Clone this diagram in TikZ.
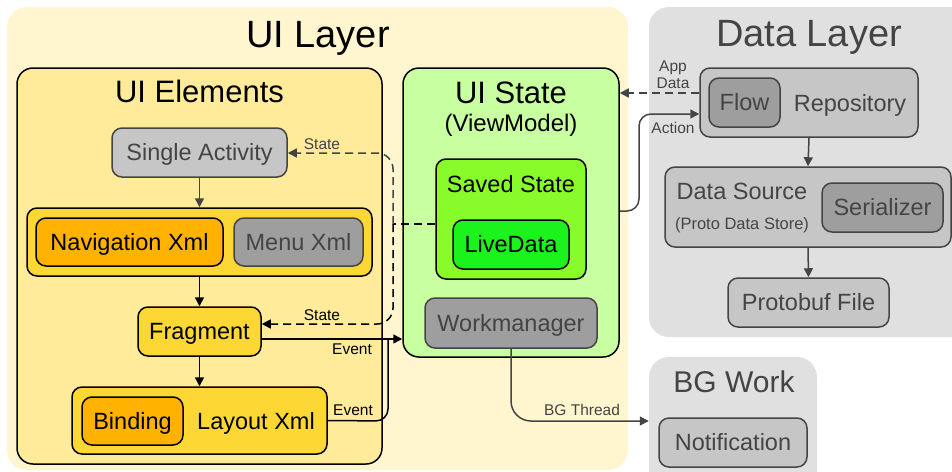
\documentclass[tikz,border=0pt]{standalone}
\usepackage{fontspec}
\setmainfont{Liberation Sans}
\usetikzlibrary{arrows.meta,calc}
\definecolor{uilayer}{HTML}{FFF6CF}
\definecolor{uielem}{HTML}{FFEB99}
\definecolor{gold}{HTML}{FDD835}
\definecolor{amber}{HTML}{FFB300}
\definecolor{lgray}{HTML}{C6C6C6}
\definecolor{mgray}{HTML}{9E9E9E}
\definecolor{bggray}{HTML}{E0E0E0}
\definecolor{dgray}{HTML}{444444}
\definecolor{lgreen}{HTML}{C8FFA0}
\definecolor{mgreen}{HTML}{88FC2A}
\definecolor{bgreen}{HTML}{1CF21C}
\begin{document}
\begin{tikzpicture}[x=1pt,y=-1pt,
  layerbg/.style={rounded corners=20pt, inner sep=0pt, fill=#1},
  box/.style={draw, rounded corners=10pt, line width=1.5pt, inner sep=0pt,
    text height=16.9pt, text depth=0pt, font=\fontsize{23.5}{28}\selectfont},
  graybox/.style={box, draw=dgray, text=dgray},
  ltitle/.style={anchor=base, font=\fontsize{38}{44}\selectfont},
  stitle/.style={anchor=base, font=\fontsize{31}{36}\selectfont},
  btext/.style={anchor=base, font=\fontsize{23.5}{28}\selectfont},
  small/.style={anchor=base, font=\fontsize{15.5}{18}\selectfont},
  arr/.style={-{Triangle[length=9pt,width=9pt]}, line width=1.5pt},
  dsh/.style={dash pattern=on 8pt off 5pt, line width=1.5pt},
]
\useasboundingbox (0,0) rectangle (952,471);
\clip (0,0) rectangle (952,471);

% layer backgrounds
\node[layerbg=uilayer, minimum width=621pt, minimum height=463pt] (uil) at (317.5,238.5) {};
\node[layerbg=bggray, minimum width=326pt, minimum height=330pt] (dl) at (812,172) {};
\node[layerbg=bggray, minimum width=168pt, minimum height=140pt] (bgw) at (733,427) {};
\node[ltitle] (uilt) at (318,47) {UI Layer};
\node[ltitle, text=dgray] (dlt) at (809,46) {Data Layer};
\node[anchor=base, font=\fontsize{30}{36}\selectfont, text=dgray] (bgwt) at (734,392) {BG Work};

% UI elements
\node[box, rounded corners=16pt, fill=uielem, minimum width=365pt, minimum height=396pt] (uie) at (199.5,266) {};
\node[stitle] (uiet) at (199.5,102) {UI Elements};
\node[graybox, fill=lgray, minimum width=175pt, minimum height=49pt] (sa) at (199.5,152.5) {Single Activity};
\node[box, fill=gold, minimum width=345pt, minimum height=68pt] (nav) at (199.5,242) {};
\node[box, fill=amber, minimum width=187pt, minimum height=48pt] (navx) at (129.5,242) {Navigation Xml};
\node[graybox, fill=mgray, minimum width=129pt, minimum height=48pt] (menu) at (298.5,242) {Menu Xml};
\node[box, fill=gold, minimum width=123pt, minimum height=49pt] (frag) at (199.5,331.5) {Fragment};
\node[box, fill=gold, minimum width=255pt, minimum height=67pt] (lay) at (199.5,420.5) {};
\node[box, fill=amber, minimum width=101pt, minimum height=48pt] (bind) at (132.5,421) {Binding};
\node[btext] (layt) at (256,429) {Layout Xml};

% UI state
\node[box, rounded corners=16pt, fill=lgreen, minimum width=216pt, minimum height=289pt] (uis) at (511,212.5) {};
\node[stitle] (uist) at (511,103) {UI State};
\node[anchor=base, font=\fontsize{24}{28}\selectfont] (vm) at (511,131) {(ViewModel)};
\node[box, fill=mgreen, minimum width=150pt, minimum height=120pt] (ss) at (511,219) {};
\node[btext] (sst) at (511,192) {Saved State};
\node[box, fill=bgreen, minimum width=116pt, minimum height=49pt] (ld) at (511,244.5) {LiveData};
\node[graybox, fill=mgray, minimum width=172pt, minimum height=50pt] (wm) at (511,323) {Workmanager};

% data layer
\node[graybox, fill=lgray, minimum width=218pt, minimum height=69pt] (repo) at (809,102.5) {};
\node[graybox, fill=mgray, minimum width=71pt, minimum height=49pt] (flow) at (744.5,102.5) {Flow};
\node[btext, text=dgray] (repot) at (850,111) {Repository};
\node[graybox, fill=lgray, minimum width=286pt, minimum height=80pt] (ds) at (808,207) {};
\node[btext, text=dgray] (dst) at (742,199) {Data Source};
\node[anchor=base, font=\fontsize{16.5}{20}\selectfont, text=dgray] (dss) at (742,229) {(Proto Data Store)};
\node[graybox, fill=mgray, minimum width=121pt, minimum height=49pt] (ser) at (882.5,207.5) {Serializer};
\node[graybox, fill=lgray, minimum width=161pt, minimum height=49pt] (pb) at (808.5,302.5) {Protobuf File};

% BG work
\node[graybox, fill=lgray, minimum width=148pt, minimum height=49pt] (notif) at (733,442.5) {Notification};

% vertical flow arrows
\draw[arr, dgray] (sa.south) -- (nav.north);
\draw[arr] (nav.south) -- (frag.north);
\draw[arr] (frag.south) -- (lay.north);
\draw[arr, dgray] (repo.south) -- (ds.north);
\draw[arr, dgray] (ds.south) -- (pb.north);

% state connectors
\coordinate (j) at (393,224);
\draw[dsh] (ss.west |- j) -- (j);
\draw[dsh, arr, dgray, rounded corners=16pt] (j) -- (393,153) -- (sa.east |- 0,153);
\draw[dsh, arr, rounded corners=16pt] (j) -- (393,324) -- (frag.east |- 0,324);
\node[small, text=dgray] (st1) at (322,149) {State};
\node[small] (st2) at (322,320) {State};

% event connectors
\draw[arr] (frag.east |- 0,339) -- (uis.west |- 0,339);
\draw[line width=1.5pt, rounded corners=12pt] (lay.east) -- (388,421) -- (388,339);
\node[small] (ev1) at (352,354) {Event};
\node[small] (ev2) at (353,415) {Event};

% data connectors
\draw[dsh, arr, dgray] (repo.west |- 0,93) -- (uis.east |- 0,93);
\draw[arr, dgray, rounded corners=12pt] (uis.east |- 0,211) -- (639,211) -- (639,114) -- (repo.west |- 0,114);
\node[small, text=dgray] (ad1) at (673,71) {App};
\node[small, text=dgray] (ad2) at (673,88) {Data};
\node[small, text=dgray] (act) at (673,133) {Action};

% bg thread
\draw[arr, dgray, rounded corners=20pt] (wm.south) -- (511,421) -- (bgw.west |- 0,421);
\node[small, text=dgray] (bgt) at (582,415) {BG Thread};
\end{tikzpicture}
\end{document}
